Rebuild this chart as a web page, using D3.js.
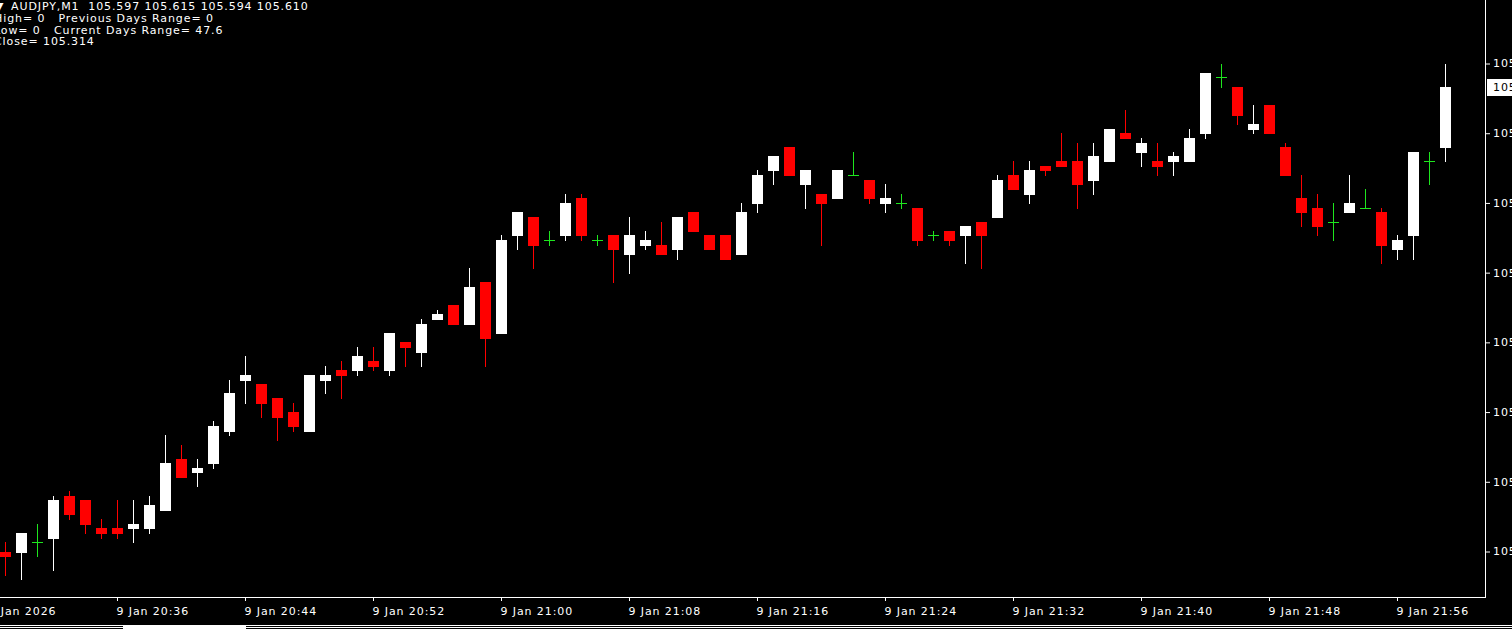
<!DOCTYPE html>
<html>
<head>
<meta charset="utf-8">
<script src="https://cdn.jsdelivr.net/npm/d3@7"></script>
<style>
html, body { margin: 0; padding: 0; background: #000; overflow: hidden; }
svg { display: block; }
text { font-family: "DejaVu Sans", sans-serif; font-size: 11px; letter-spacing: 0.9px; fill: #fff; white-space: pre; }
</style>
</head>
<body>
<svg width="1512" height="629"></svg>
<script>
// M1 bars, 9 Jan 2026
var times = ["20:29","20:30","20:31","20:32","20:33","20:34","20:35","20:36","20:37","20:38",
  "20:39","20:40","20:41","20:42","20:43","20:44","20:45","20:46","20:47","20:48",
  "20:49","20:50","20:51","20:52","20:53","20:54","20:55","20:56","20:57","20:58",
  "20:59","21:00","21:01","21:02","21:03","21:04","21:05","21:06","21:07","21:08",
  "21:09","21:10","21:11","21:12","21:13","21:14","21:15","21:16","21:17","21:18",
  "21:19","21:20","21:21","21:22","21:23","21:24","21:25","21:26","21:27","21:28",
  "21:29","21:30","21:31","21:32","21:33","21:34","21:35","21:36","21:37","21:38",
  "21:39","21:40","21:41","21:42","21:43","21:44","21:45","21:46","21:47","21:48",
  "21:49","21:50","21:51","21:52","21:53","21:54","21:55","21:56","21:57","21:58","21:59"];

var opens = [105.510,105.510,105.512,105.513,105.522,105.521,105.515,105.515,105.515,105.515,
  105.519,105.530,105.527,105.529,105.536,105.547,105.546,105.543,105.540,105.536,
  105.547,105.549,105.549,105.551,105.549,105.555,105.553,105.560,105.563,105.559,
  105.568,105.557,105.578,105.582,105.577,105.578,105.586,105.577,105.578,105.574,
  105.576,105.576,105.575,105.583,105.578,105.578,105.574,105.585,105.592,105.597,
  105.589,105.587,105.586,105.591,105.590,105.585,105.585,105.584,105.578,105.579,
  105.578,105.581,105.582,105.591,105.587,105.593,105.594,105.594,105.590,105.594,
  105.600,105.596,105.594,105.594,105.594,105.600,105.612,105.610,105.601,105.606,
  105.597,105.586,105.584,105.581,105.583,105.584,105.583,105.575,105.578,105.594,105.597];

var highs = [105.512,105.514,105.516,105.522,105.523,105.521,105.517,105.521,105.521,105.522,
  105.535,105.533,105.530,105.538,105.547,105.552,105.546,105.543,105.542,105.548,
  105.550,105.551,105.554,105.554,105.557,105.555,105.560,105.562,105.563,105.571,
  105.568,105.578,105.583,105.582,105.579,105.587,105.587,105.578,105.578,105.582,
  105.579,105.581,105.582,105.583,105.578,105.578,105.585,105.592,105.595,105.597,
  105.592,105.587,105.592,105.596,105.590,105.589,105.587,105.584,105.579,105.579,
  105.580,105.581,105.591,105.594,105.594,105.593,105.600,105.598,105.598,105.601,
  105.605,105.599,105.598,105.596,105.601,105.613,105.615,105.610,105.606,105.606,
  105.598,105.591,105.587,105.585,105.591,105.588,105.584,105.578,105.596,105.596,105.615];

var lows = [105.505,105.504,105.509,105.506,105.517,105.514,105.513,105.513,105.512,105.514,
  105.519,105.526,105.524,105.528,105.535,105.542,105.539,105.534,105.536,105.536,
  105.544,105.543,105.548,105.549,105.548,105.550,105.550,105.560,105.559,105.559,
  105.550,105.557,105.575,105.571,105.576,105.577,105.577,105.576,105.568,105.570,
  105.575,105.574,105.573,105.579,105.575,105.573,105.574,105.583,105.589,105.591,
  105.584,105.576,105.586,105.591,105.585,105.583,105.584,105.576,105.577,105.576,
  105.572,105.571,105.582,105.588,105.585,105.591,105.593,105.584,105.587,105.594,
  105.599,105.593,105.591,105.591,105.594,105.599,105.610,105.602,105.600,105.600,
  105.591,105.580,105.578,105.577,105.583,105.584,105.572,105.573,105.573,105.589,105.594];

var closes = [105.509,105.514,105.512,105.521,105.518,105.516,105.514,105.514,105.516,105.520,
  105.529,105.526,105.528,105.537,105.544,105.548,105.542,105.539,105.537,105.548,
  105.548,105.548,105.552,105.550,105.557,105.554,105.559,105.561,105.559,105.567,
  105.556,105.577,105.583,105.576,105.577,105.585,105.578,105.577,105.575,105.578,
  105.577,105.574,105.582,105.579,105.575,105.573,105.583,105.591,105.595,105.591,
  105.592,105.585,105.592,105.591,105.586,105.586,105.585,105.577,105.578,105.577,
  105.580,105.578,105.590,105.588,105.592,105.592,105.593,105.589,105.595,105.601,
  105.599,105.598,105.593,105.595,105.599,105.613,105.612,105.604,105.602,105.600,
  105.591,105.583,105.580,105.581,105.585,105.584,105.576,105.577,105.596,105.594,105.610];

var priceTicks = [105.510, 105.525, 105.540, 105.555, 105.570, 105.585, 105.600, 105.615];
var timeTicks = ["20:28","20:36","20:44","20:52","21:00","21:08","21:16","21:24","21:32","21:40","21:48","21:56"];
var timeLabels = ["9 Jan 2026","9 Jan 20:36","9 Jan 20:44","9 Jan 20:52","9 Jan 21:00","9 Jan 21:08",
  "9 Jan 21:16","9 Jan 21:24","9 Jan 21:32","9 Jan 21:40","9 Jan 21:48","9 Jan 21:56"];

var headerLines = ["AUDJPY,M1  105.597 105.615 105.594 105.610",
  "High= 0   Previous Days Range= 0",
  "Low= 0   Current Days Range= 47.6",
  "Close= 105.314"];
var lastPrice = 105.610;

var svg = d3.select("svg");
var plotRight = 1485, plotBottom = 598;

var parseT = d3.timeParse("%H:%M");
var x = d3.scaleTime()
  .domain([parseT(times[0]), parseT(times[times.length - 1])])
  .range([5.5, 1445.5]);
var y = d3.scaleLinear().domain([105.510, 105.615]).range([551.5, 63.5]);

var bars = times.map(function (t, i) {
  return { t: parseT(t), o: opens[i], h: highs[i], l: lows[i], c: closes[i] };
});

function colorOf(d) {
  if (d.c === d.o) return "#1ee61e";
  return d.c > d.o ? "#ffffff" : "#ff0000";
}

// candles
var candle = svg.append("g").selectAll("g")
  .data(bars)
  .enter()
  .append("g");

candle.append("line")
  .attr("x1", function (d) { return x(d.t); })
  .attr("x2", function (d) { return x(d.t); })
  .attr("y1", function (d) { return Math.round(y(d.h)); })
  .attr("y2", function (d) { return Math.round(y(d.l)) + 1; })
  .attr("stroke", colorOf)
  .attr("stroke-width", 1);

candle.filter(function (d) { return d.o !== d.c; })
  .append("rect")
  .attr("x", function (d) { return x(d.t) - 5.5; })
  .attr("width", 11)
  .attr("y", function (d) { return Math.round(y(Math.max(d.o, d.c))); })
  .attr("height", function (d) {
    return Math.max(1, Math.round(y(Math.min(d.o, d.c))) - Math.round(y(Math.max(d.o, d.c))) + 1);
  })
  .attr("fill", colorOf);

candle.filter(function (d) { return d.o === d.c; })
  .append("line")
  .attr("x1", function (d) { return x(d.t) - 5.5; })
  .attr("x2", function (d) { return x(d.t) + 5.5; })
  .attr("y1", function (d) { return Math.round(y(d.c)) + 0.5; })
  .attr("y2", function (d) { return Math.round(y(d.c)) + 0.5; })
  .attr("stroke", colorOf);

// frame
svg.append("line").attr("x1", plotRight + 0.5).attr("x2", plotRight + 0.5)
  .attr("y1", 0).attr("y2", plotBottom).attr("stroke", "#fff");
svg.append("line").attr("x1", 0).attr("x2", plotRight + 1)
  .attr("y1", plotBottom - 0.5).attr("y2", plotBottom - 0.5).attr("stroke", "#fff");

// price axis
var yAxis = svg.append("g")
  .attr("transform", "translate(" + (plotRight + 1) + ",0)")
  .call(d3.axisRight(y).tickValues(priceTicks).tickFormat(d3.format(".3f")).tickSize(4).tickPadding(3).offset(0));
yAxis.select(".domain").remove();
yAxis.selectAll("line").attr("stroke", "#fff").attr("transform", "translate(0,0.5)");
yAxis.selectAll("text").attr("fill", "#fff").attr("font-size", null).attr("font-family", null).attr("dy", "0.36em");
yAxis.attr("font-size", null).attr("font-family", null);

// time axis
var xAxis = svg.append("g")
  .attr("transform", "translate(0," + plotBottom + ")")
  .call(d3.axisBottom(x).tickValues(timeTicks.map(parseT))
    .tickFormat(function (d, i) { return timeLabels[i]; }).tickSize(3).offset(0));
xAxis.select(".domain").remove();
xAxis.selectAll("line").attr("stroke", "#fff");
xAxis.selectAll("text").attr("fill", "#fff").attr("text-anchor", "start")
  .attr("x", -1).attr("y", 16.5).attr("dy", null);
xAxis.attr("font-size", null).attr("font-family", null);

// current price label
svg.append("rect").attr("x", plotRight + 2).attr("y", Math.round(y(lastPrice)) - 8)
  .attr("width", 30).attr("height", 17).attr("fill", "#fff");
svg.append("text").attr("x", plotRight + 8).attr("y", Math.round(y(lastPrice)) + 0.5)
  .attr("dy", "0.36em").style("fill", "#000").text(d3.format(".3f")(lastPrice));

// header info
svg.append("text").attr("x", -5).attr("y", 9.5).text("▼");
svg.append("g").selectAll("text")
  .data(headerLines)
  .enter()
  .append("text")
  .attr("x", function (d, i) { return i === 0 ? 11 : -6; })
  .attr("y", function (d, i) { return [9.5, 21.5, 33.5, 45][i]; })
  .text(function (d) { return d; });

// tab bar at the bottom
svg.append("line").attr("x1", 0).attr("x2", 1512).attr("y1", 625.5).attr("y2", 625.5).attr("stroke", "#fff");
svg.append("line").attr("x1", 0).attr("x2", 1512).attr("y1", 627.5).attr("y2", 627.5).attr("stroke", "#fff");
svg.append("rect").attr("x", 123).attr("y", 625).attr("width", 123).attr("height", 4).attr("fill", "#fff");
</script>
</body>
</html>
